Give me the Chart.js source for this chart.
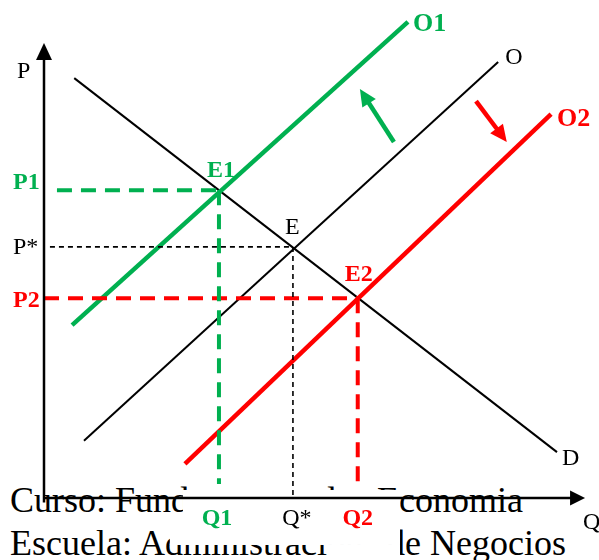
<!DOCTYPE html>
<html><head><meta charset="utf-8">
<script src="https://cdn.jsdelivr.net/npm/chart.js@4.4.0/dist/chart.umd.min.js"></script>
<style>
html,body{margin:0;padding:0;background:#fff;}
#wrap{position:relative;width:599px;height:560px;overflow:hidden;background:#fff;}
.cap{position:absolute;font-family:"Liberation Serif","Times New Roman",serif;font-size:36px;line-height:36px;white-space:nowrap;color:#000;z-index:0;}
canvas{position:absolute;left:0;top:0;z-index:1;}
</style></head><body>
<div id="wrap">
<div class="cap" style="left:10px;top:482px">Curso: Fundamentos de</div>
<div class="cap" style="left:377px;top:482px">Economia</div>
<div class="cap" style="left:10px;top:525px">Escuela: Administración</div>
<div class="cap" style="left:387px;top:525px">de Negocios</div>
<canvas id="c" width="599" height="560"></canvas>
</div>
<script>
const GREEN = '#00B050', RED = '#FF0000', BLACK = '#000000';
// curve endpoints as [Q, P]
const demandD  = [[5.6, 93.3], [95.0, 10.2]];
const supplyO  = [[7.4, 12.7], [84.1, 96.9]];
const supplyO1 = [[5.2, 38.4], [67.4, 105.8]];
const supplyO2 = [[26.1, 7.6], [93.9, 85.3]];
const curveLabels = ['D', 'O', 'O1', 'O2'];
// equilibria: E (original), E1 (O1), E2 (O2)
const eqNames = ['E', 'E1', 'E2'];
const eqQ = [46.1, 32.4, 58.1];
const eqP = [55.8, 68.4, 44.4];
const priceLabels = ['P*', 'P1', 'P2'];
const qtyLabels = ['Q*', 'Q1', 'Q2'];
const guideStartQ = [1.1, 2.4, 0];
const guideEndP = [0, 3.1, 3.1];
// shift arrows [tail, tip]
const shiftUp = [[64.8, 79.1], [58.5, 90.9]];
const shiftDown = [[80.0, 88.2], [85.7, 79.1]];
const axisEnds = [100.2, 101.1];
const axisTitles = ['Q', 'P'];
// white box hiding part of the caption [q0, q1, p0, p1]
const coverBoxes = [[25.74, 65.93, 1.78, -10.44], [23.3, 25.74, -4.22, -10.44], [52.4, 65.93, -10.44, -14]];

const eqColors = [BLACK, GREEN, RED];
const eqBold = [false, true, true];
const pts = a => a.map(([x, y]) => ({x, y}));
const line = (data, color, width, dash, order) => ({
  data, borderColor: color, backgroundColor: color, borderWidth: width, borderDash: dash || [],
  showLine: true, pointRadius: 0, pointHoverRadius: 0, fill: false, tension: 0, order
});

const datasets = [
  line(pts(demandD), BLACK, 2, null, 5),
  line(pts(supplyO), BLACK, 2, null, 5),
  line(pts(supplyO1), GREEN, 4.5, null, 4),
  line(pts(supplyO2), RED, 4.5, null, 4),
];
const guideW = [1.6, 4, 4];
const guideDash = [[5, 4], [15, 9], [15, 9]];
for (let i = 0; i < 3; i++) {
  datasets.push(line([{x: guideStartQ[i], y: eqP[i]}, {x: eqQ[i], y: eqP[i]}], eqColors[i], guideW[i], guideDash[i], 2));
  datasets.push(line([{x: eqQ[i], y: eqP[i]}, {x: eqQ[i], y: guideEndP[i]}], eqColors[i], guideW[i], guideDash[i], 2));
}

function arrow(ctx, p0, p1, color, width, headLen, headHalf) {
  const dx = p1[0] - p0[0], dy = p1[1] - p0[1], L = Math.hypot(dx, dy), ux = dx / L, uy = dy / L;
  const bx = p1[0] - ux * headLen, by = p1[1] - uy * headLen;
  ctx.strokeStyle = color; ctx.lineWidth = width; ctx.lineCap = 'butt';
  ctx.beginPath(); ctx.moveTo(p0[0], p0[1]); ctx.lineTo(bx + ux, by + uy); ctx.stroke();
  ctx.fillStyle = color; ctx.beginPath(); ctx.moveTo(p1[0], p1[1]);
  ctx.lineTo(bx - uy * headHalf, by + ux * headHalf); ctx.lineTo(bx + uy * headHalf, by - ux * headHalf);
  ctx.closePath(); ctx.fill();
}
function txt(ctx, s, px, py, color, bold, size, align) {
  ctx.font = (bold ? 'bold ' : '') + size + 'px "Liberation Serif", "Times New Roman", serif';
  ctx.fillStyle = color; ctx.textAlign = align || 'left'; ctx.textBaseline = 'alphabetic';
  ctx.fillText(s, px, py);
}

const diagram = {
  id: 'diagram',
  beforeDatasetsDraw(chart) {
    const {ctx, scales: {x, y}} = chart;
    ctx.save(); ctx.fillStyle = '#fff';
    for (const r of coverBoxes) {
      const x0 = x.getPixelForValue(r[0]), x1 = x.getPixelForValue(r[1]);
      const y0 = y.getPixelForValue(r[2]), y1 = y.getPixelForValue(r[3]);
      ctx.fillRect(Math.min(x0, x1), Math.min(y0, y1), Math.abs(x1 - x0), Math.abs(y1 - y0));
    }
    ctx.restore();
  },
  afterDatasetsDraw(chart) {
    const {ctx, scales: {x, y}} = chart;
    const P = (q, p) => [x.getPixelForValue(q), y.getPixelForValue(p)];
    ctx.save();
    const ox = x.getPixelForValue(0), oy = y.getPixelForValue(0);
    const tipX = x.getPixelForValue(axisEnds[0]), tipY = y.getPixelForValue(axisEnds[1]);
    arrow(ctx, [ox, y.getPixelForValue(-1)], [ox, tipY], BLACK, 2.5, 17, 8);
    arrow(ctx, [ox - 1, oy], [tipX, oy], BLACK, 2.5, 15, 7.5);
    arrow(ctx, P(...shiftUp[0]), P(...shiftUp[1]), GREEN, 4.5, 17, 8);
    arrow(ctx, P(...shiftDown[0]), P(...shiftDown[1]), RED, 4.5, 17, 8);

    txt(ctx, axisTitles[1], ox - 27, tipY + 35, BLACK, false, 24);
    txt(ctx, axisTitles[0], tipX - 2, oy + 31, BLACK, false, 24);

    const pOff = [7, -1, 9];
    const eOff = [[-8, -13], [-12, -13], [-13, -17]];
    const qOff = [4, -2, 0];
    for (let i = 0; i < 3; i++) {
      const [ex, ey] = P(eqQ[i], eqP[i]);
      txt(ctx, priceLabels[i], ox - 31, ey + pOff[i], eqColors[i], eqBold[i], 24);
      txt(ctx, eqNames[i], ex + eOff[i][0], ey + eOff[i][1], eqColors[i], eqBold[i], 24);
      txt(ctx, qtyLabels[i], ex + qOff[i], oy + 27, eqColors[i], eqBold[i], 24, 'center');
    }
    const ends = [demandD[1], supplyO[1], supplyO1[1], supplyO2[1]];
    const cOff = [[5, 13], [7, 2], [5, 9], [6, 12]];
    const cCol = [BLACK, BLACK, GREEN, RED];
    const cBold = [false, false, true, true];
    const cSize = [24, 24, 26, 26];
    for (let i = 0; i < 4; i++) {
      const [px, py] = P(...ends[i]);
      txt(ctx, curveLabels[i], px + cOff[i][0], py + cOff[i][1], cCol[i], cBold[i], cSize[i]);
    }
    ctx.restore();
  }
};

new Chart(document.getElementById('c'), {
  type: 'scatter',
  data: {datasets},
  options: {
    responsive: false, animation: false, events: [],
    layout: {padding: 0},
    plugins: {legend: {display: false}, tooltip: {enabled: false}},
    scales: {
      x: {type: 'linear', display: false, min: -44 / 5.4, max: 555 / 5.4},
      y: {type: 'linear', display: false, min: -62 / 4.5, max: 498 / 4.5}
    }
  },
  plugins: [diagram]
});
</script>
</body></html>
